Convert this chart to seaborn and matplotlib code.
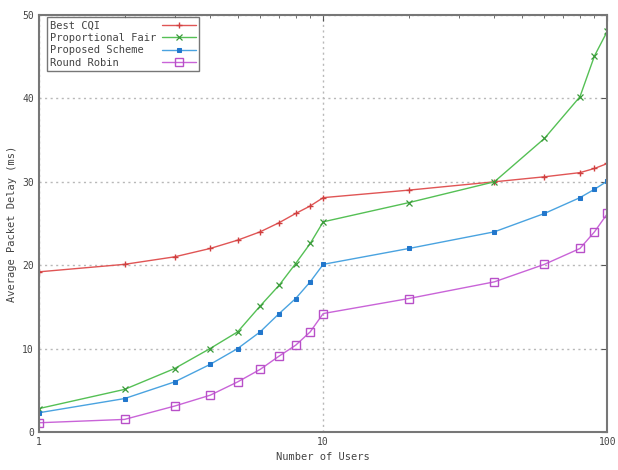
import matplotlib
matplotlib.use("Agg")
import matplotlib.pyplot as plt
import seaborn as sns
import pandas as pd
from matplotlib.ticker import LogLocator, NullFormatter, FixedLocator

# number of users (log axis)
users = [1, 2, 3, 4, 5, 6, 7, 8, 9, 10, 20, 40, 60, 80, 90, 100]

# average packet delay (ms)
best_cqi = [19.2, 20.1, 21.0, 22.0, 23.0, 24.0, 25.1, 26.2, 27.1, 28.1, 29.0, 30.0, 30.6, 31.1, 31.6, 32.2]
prop_fair = [2.8, 5.1, 7.6, 10.0, 12.0, 15.1, 17.6, 20.2, 22.6, 25.2, 27.5, 30.0, 35.2, 40.2, 45.1, 48.1]
proposed = [2.3, 4.0, 6.0, 8.1, 10.0, 12.0, 14.2, 16.0, 18.0, 20.1, 22.0, 24.0, 26.2, 28.1, 29.1, 30.1]
round_robin = [1.1, 1.5, 3.1, 4.4, 6.0, 7.5, 9.1, 10.4, 12.0, 14.2, 16.0, 18.0, 20.1, 22.0, 24.0, 26.2]

series_names = ["Best CQI", "Proportional Fair", "Proposed Scheme", "Round Robin"]
series_values = [best_cqi, prop_fair, proposed, round_robin]

sns.set_style("white")
plt.rcParams["font.family"] = ["DejaVu Sans Mono"]

fig = plt.figure(figsize=(6.18, 4.70), dpi=100)
ax = fig.add_axes([0.063, 0.081, 0.920, 0.887])

styles = [
    dict(color="#e05555", marker="+", markersize=5, mew=1.0, markeredgecolor="#d04040"),
    dict(color="#55c055", marker="x", markersize=4, mew=0.9, markeredgecolor="#3a9a3a"),
    dict(color="#4aa3e0", marker="s", markersize=3, markerfacecolor="#2277cc", markeredgecolor="#2277cc"),
    dict(color="#c964d8", marker="s", markersize=5.5, markerfacecolor="none", mew=1.0, markeredgecolor="#b850c8"),
]

width = max(len(n) for n in series_names)
for name, vals, st in zip(series_names, series_values, styles):
    df = pd.DataFrame({"Users": users, "Delay": vals})
    sns.lineplot(data=df, x="Users", y="Delay", ax=ax, label=name.ljust(width), linewidth=1.0, **st)

ax.set_xscale("log")
ax.set_xlim(1, 100)
ax.set_ylim(0, 50)
ax.xaxis.set_major_locator(FixedLocator([1, 10, 100]))
ax.set_xticklabels(["1", "10", "100"])
ax.xaxis.set_minor_locator(LogLocator(base=10, subs=range(2, 10)))
ax.xaxis.set_minor_formatter(NullFormatter())
ax.set_yticks([0, 10, 20, 30, 40, 50])

ax.grid(True, which="major", color="#b8b8b8", linestyle=(0, (1.5, 2.5)), linewidth=1.0)
ax.tick_params(which="both", direction="in", top=True, right=True, colors="#555555",
               labelsize=7, labelcolor="#444444")
ax.tick_params(which="major", length=4)
ax.tick_params(which="minor", length=2.5)
for sp in ax.spines.values():
    sp.set_color("#777777")
    sp.set_linewidth(1.5)

ax.set_xlabel("Number of Users", fontsize=7.5, color="#444444", labelpad=4)
ax.set_ylabel("Average Packet Delay (ms)", fontsize=7.5, color="#444444", labelpad=4)

leg = ax.legend(loc="upper left", bbox_to_anchor=(0.01, 1.0), markerfirst=False, fontsize=7.5,
                handlelength=3.2, frameon=True, fancybox=False, borderpad=0.3,
                labelspacing=0.25, handletextpad=0.6, borderaxespad=0.2)
leg.get_frame().set_edgecolor("#555555")
leg.get_frame().set_linewidth(1.0)
for t in leg.get_texts():
    t.set_color("#444444")

fig.savefig("out.png", dpi=100)
